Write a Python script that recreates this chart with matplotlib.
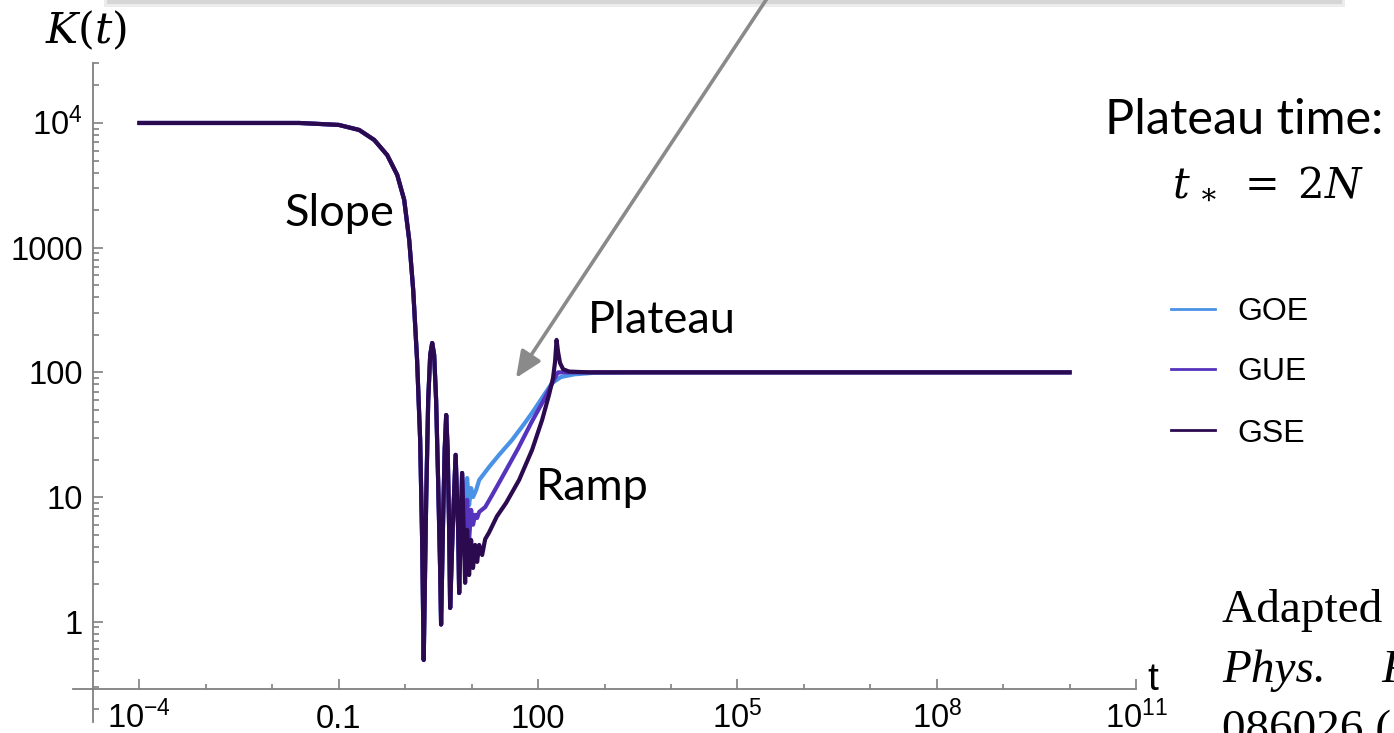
import matplotlib
matplotlib.use("Agg")
import matplotlib.pyplot as plt
from matplotlib import transforms
from matplotlib.patches import Rectangle, FancyArrowPatch
from matplotlib.lines import Line2D

# --- dados (t, K(t)) ---
# trecho comum: patamar inicial, "slope" e as primeiras oscilacoes
t_head = [1e-4, 0.0255, 0.1, 0.203, 0.342, 0.536, 0.759, 0.966, 1.15, 1.32, 1.51,
          1.68, 1.80, 1.90, 2.07, 2.22, 2.38, 2.55, 2.73, 2.92, 3.13, 3.36, 3.47,
          3.72, 3.93, 4.14, 4.36, 4.59, 4.75, 5.18, 5.74, 6.27, 6.49, 7.19]
k_head = [1e4, 1e4, 9650, 8790, 7310, 5530, 3830, 2420, 1150, 458, 126,
          28.7, 4.5, 0.494, 9.5, 60, 138, 172, 138, 60, 13.7, 2.6, 0.95,
          6.5, 23.9, 45.5, 24, 5.4, 1.29, 5.4, 21.8, 5.4, 1.70, 15.6]

t_goe_tail = [7.98, 8.55, 9.16, 9.82, 10.5, 11.7, 13.0, 18.3, 25.9, 40.6, 61.5,
              87.1, 123, 163, 222, 348, 695, 3300, 1e10]
k_goe_tail = [6.5, 14.2, 8.6, 11.8, 10.0, 11.4, 13.7, 17.4, 21.8, 28.7, 38.5,
              49.9, 65.9, 82.2, 91.9, 96.4, 99.2, 100, 100]

t_gue_tail = [7.98, 8.55, 9.16, 9.82, 10.5, 11.3, 12.1, 13.0, 16.0, 20.0, 30.0,
              50.0, 80.0, 120, 160, 190, 200, 215, 250, 400, 1e10]
k_gue_tail = [3.6, 9.5, 4.5, 7.9, 6.0, 7.2, 6.8, 7.6, 8.3, 10.2, 15.0,
              24.5, 40.0, 59, 80, 96, 100, 100, 100, 100, 100]

t_gse_tail = [7.98, 8.55, 9.16, 9.82, 10.5, 11.3, 12.1, 13.0, 14.4, 16.0, 18.3,
              24.0, 33.0, 51.8, 81.3, 115, 146, 168, 180, 190, 200, 214, 238,
              292, 585, 1e10]
k_gse_tail = [2.05, 5.45, 2.37, 4.53, 2.70, 4.13, 3.02, 4.13, 3.43, 4.6, 5.2,
              7.0, 8.97, 13.7, 23.9, 41.5, 65.9, 90.2, 121, 182, 146, 119, 106,
              101.5, 100, 100]

series = ["GOE", "GUE", "GSE"]
colors = {"GOE": "#4a92e6", "GUE": "#5633bd", "GSE": "#2b0a50"}
curves = {
    "GOE": (t_head + t_goe_tail, k_head + k_goe_tail),
    "GUE": (t_head + t_gue_tail, k_head + k_gue_tail),
    "GSE": (t_head + t_gse_tail, k_head + k_gse_tail),
}

x_major = [1e-4, 0.1, 100, 1e5, 1e8, 1e11]
x_labels = [r"$10^{-4}$", "0.1", "100", r"$10^{5}$", r"$10^{8}$", r"$10^{11}$"]
x_minor = [1e-3, 1e-2, 1, 10, 1e3, 1e4, 1e6, 1e7, 1e9, 1e10]
y_major = [1, 10, 100, 1000, 1e4]
y_labels = ["1", "10", "100", "1000", r"$10^{4}$"]
y_minor = [m * 10.0 ** e for e in range(-1, 5) for m in range(2, 10)]

plt.rcParams["mathtext.fontset"] = "custom"
plt.rcParams["mathtext.rm"] = "Liberation Sans"
plt.rcParams["mathtext.it"] = "Liberation Sans:italic"

W, H = 1394, 733
fig = plt.figure(figsize=(W / 100, H / 100), dpi=100)


def fx(x):
    return x / W


def fy(y):
    return 1 - y / H


# caixa de texto cortada no topo e seta
fig.add_artist(Rectangle((fx(104), fy(7)), fx(1345) - fx(104), 0.05,
                         transform=fig.transFigure, facecolor="#ececec", edgecolor="none"))
fig.add_artist(Rectangle((fx(107), fy(4)), fx(1342) - fx(107), 0.05,
                         transform=fig.transFigure, facecolor="#d6d6d6", edgecolor="none"))

ax = fig.add_axes([fx(73), 11 / H, (1136 - 73) / W, 659 / H])
ax.set_xscale("log")
ax.set_yscale("log")
ax.patch.set_alpha(0)

for name in series:
    t, k = curves[name]
    ax.plot(t, k, color=colors[name], lw=3.0, solid_joinstyle="round")

for s in ["top", "right"]:
    ax.spines[s].set_visible(False)
axis_col = "#808080"
ax.spines["left"].set_position(("data", 2.03e-5))
ax.spines["bottom"].set_position(("data", 0.289))
for s in ["left", "bottom"]:
    ax.spines[s].set_color(axis_col)
    ax.spines[s].set_linewidth(1.3)

ax.set_xticks(x_major)
ax.set_xticks(x_minor, minor=True)
ax.set_yticks(y_major)
ax.set_yticks([v for v in y_minor if v not in y_major], minor=True)
ax.set_xticklabels([])
ax.set_yticklabels([])
# limites depois dos ticks (set_ticks expande a vista)
ax.set_xlim(10 ** -5.0, 1e11)
ax.set_ylim(10 ** -0.804, 10 ** 4.481)
ax.tick_params(axis="x", which="both", direction="in", color=axis_col, width=1.2, labelbottom=False)
ax.tick_params(axis="y", which="both", direction="in", color=axis_col, width=1.2, labelleft=False)
ax.tick_params(axis="x", which="major", length=7)
ax.tick_params(axis="x", which="minor", length=3.8)
ax.tick_params(axis="y", which="major", length=7.5)
ax.tick_params(axis="y", which="minor", length=4)

# rotulos dos ticks (alinhados pela linha de base, como no Mathematica)
tick_fs = 23.5
xtr = transforms.offset_copy(ax.get_xaxis_transform(), x=0, y=-(728 - 722), units="dots")
for v, lab in zip(x_major, x_labels):
    ax.text(v, 0, lab, transform=xtr, ha="center", va="baseline",
            fontsize=tick_fs, family="Liberation Sans", clip_on=False)
ytr = transforms.offset_copy(ax.get_yaxis_transform(), x=83 - 73, y=-12, units="dots")
for v, lab in zip(y_major, y_labels):
    ax.text(0, v, lab, transform=ytr, ha="right", va="baseline",
            fontsize=tick_fs, family="Liberation Sans", clip_on=False)

fig.text(fx(1147), fy(690), "t", fontsize=28, family="Liberation Sans", va="baseline")
fig.text(fx(45), fy(43), r"$K(t)$", fontsize=31, math_fontfamily="dejavuserif", va="baseline")

# anotacoes
lab_font = "Lato"
fig.text(fx(285), fy(226), "Slope", fontsize=32.5, family=lab_font, va="baseline")
fig.text(fx(588), fy(333), "Plateau", fontsize=32.5, family=lab_font, va="baseline")
fig.text(fx(536), fy(500), "Ramp", fontsize=32.5, family=lab_font, va="baseline")
fig.text(fx(1105), fy(134), "Plateau time:", fontsize=35, family=lab_font, va="baseline")
fig.text(fx(1172), fy(195), r"$t_{\,\ast}\;=\;2N$", fontsize=30, math_fontfamily="dejavuserif",
         va="baseline")

# legenda
leg_y = {"GOE": 309, "GUE": 369, "GSE": 430}
for name in series:
    y = leg_y[name]
    fig.add_artist(Line2D([fx(1171), fx(1215)], [fy(y), fy(y)], transform=fig.transFigure,
                          color=colors[name], lw=2))
    fig.text(fx(1237), fy(y + 11.5), name, fontsize=23, family="Liberation Sans", va="baseline")

# referencia (cortada na borda, como no original)
fig.text(fx(1222), fy(622), "Adapted from", fontsize=34, family="Liberation Serif", va="baseline")
fig.text(fx(1222), fy(682), "Phys.", fontsize=34, family="Liberation Serif", style="italic", va="baseline")
fig.text(fx(1381), fy(682), "Rev.", fontsize=34, family="Liberation Serif", style="italic", va="baseline")
fig.text(fx(1222), fy(742), "086026 (2018)", fontsize=34, family="Liberation Serif", va="baseline")

fig.add_artist(FancyArrowPatch((fx(768), fy(-3)), (fx(516), fy(378)), transform=fig.transFigure,
                               arrowstyle="-|>,head_length=0.8,head_width=0.35", mutation_scale=20,
                               color="#8a8a8a", lw=2.6, shrinkA=0, shrinkB=0))

fig.savefig("out.png", dpi=100)
